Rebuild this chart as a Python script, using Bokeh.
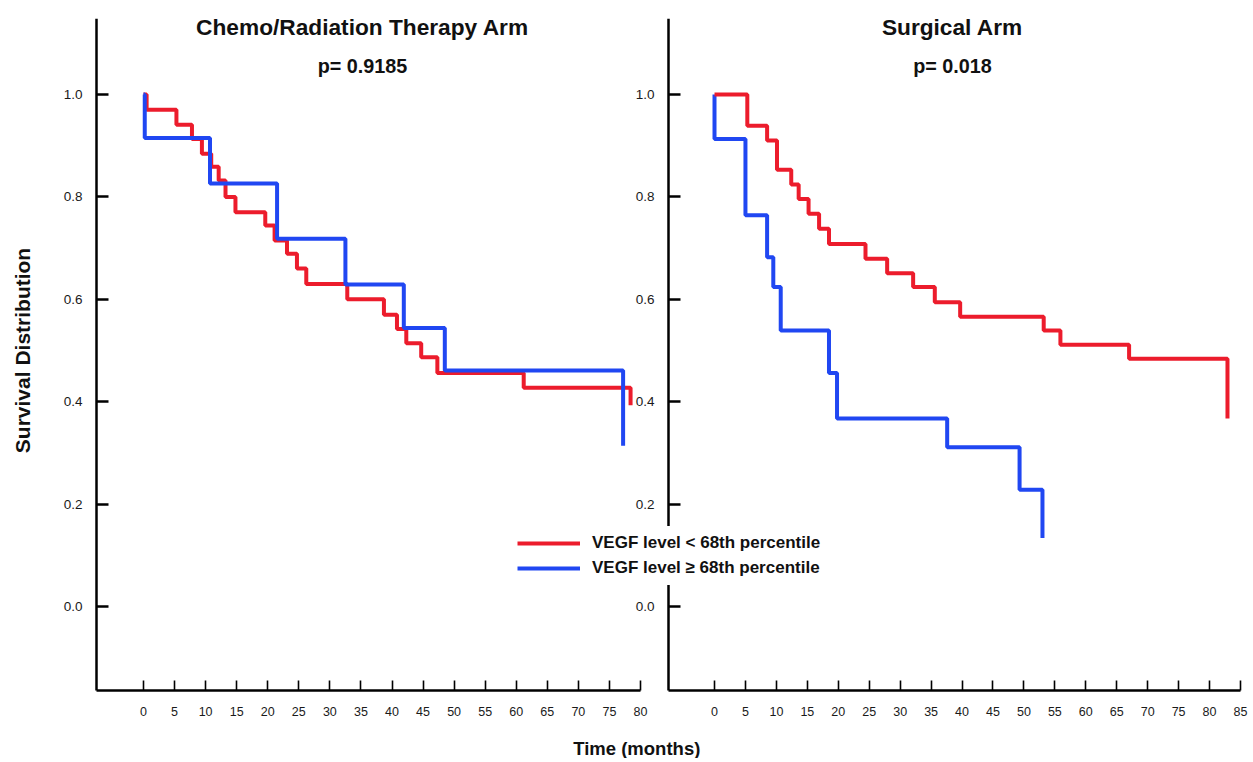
import math
from bokeh.plotting import figure
from bokeh.models import (Range1d, LinearAxis, FixedTicker, Label, Legend, LegendItem,
                          PrintfTickFormatter)
from bokeh.embed import file_html
from bokeh.resources import INLINE

# ---------------- data ----------------
# Chemo/Radiation Therapy Arm
chemo_low_t = [0, 0.5, 5.3, 7.8, 9.4, 10.9, 12.1, 13.2, 14.8, 19.6, 21.1, 23.1,
               24.7, 26.2, 32.8, 38.7, 40.8, 42.3, 44.7, 47.3, 61.2, 78.4]
chemo_low_s = [1.0, 0.970, 0.941, 0.913, 0.884, 0.859, 0.832, 0.800, 0.770, 0.744,
               0.715, 0.689, 0.660, 0.630, 0.600, 0.570, 0.542, 0.514, 0.487,
               0.456, 0.427, 0.393]
chemo_high_t = [0, 0.2, 10.7, 21.5, 32.5, 41.9, 48.5, 77.2]
chemo_high_s = [1.0, 0.915, 0.826, 0.718, 0.629, 0.544, 0.461, 0.314]

# Surgical Arm
surg_low_t = [0, 5.3, 8.5, 10.1, 12.4, 13.6, 15.2, 16.9, 18.5, 24.4, 27.9, 32.1,
              35.6, 39.7, 53.2, 55.9, 67.0, 82.9]
surg_low_s = [1.0, 0.939, 0.910, 0.853, 0.824, 0.796, 0.767, 0.738, 0.708, 0.679,
              0.651, 0.624, 0.594, 0.566, 0.539, 0.511, 0.484, 0.367]
surg_high_t = [0, 0, 5.0, 8.5, 9.5, 10.7, 18.5, 19.8, 37.6, 49.3, 53.0]
surg_high_s = [1.0, 0.913, 0.764, 0.682, 0.624, 0.539, 0.456, 0.367, 0.311, 0.228, 0.134]

x_ticks_chemo = [0, 5, 10, 15, 20, 25, 30, 35, 40, 45, 50, 55, 60, 65, 70, 75, 80]
x_ticks_surg = [0, 5, 10, 15, 20, 25, 30, 35, 40, 45, 50, 55, 60, 65, 70, 75, 80, 85]
y_ticks = [0.0, 0.2, 0.4, 0.6, 0.8, 1.0]

titles = ["Chemo/Radiation Therapy Arm", "Surgical Arm"]
p_values = ["p= 0.9185", "p= 0.018"]
legend_labels = ["VEGF level < 68th percentile", "VEGF level \u2265 68th percentile"]
x_label = "Time (months)"
y_label = "Survival Distribution"

RED = "#ec1c2c"
BLUE = "#2047f2"
FONT = "Liberation Sans"
INK = "#111111"

# ---------------- figure ----------------
# axis extents in data units
CHEMO_X0, CHEMO_X1 = -7.565, 80
SURG_X0, SURG_X1 = -7.43, 85
Y_AX0, Y_AX1 = -0.164, 1.1484

p = figure(width=1250, height=758, title=None,
           x_range=Range1d(-23.02, 178.19), y_range=Range1d(-0.2969, 1.1484),
           x_axis_location=None, y_axis_location=None,
           output_backend="svg", toolbar_location=None,
           min_border_left=0, min_border_right=0, min_border_top=18, min_border_bottom=0)
p.extra_x_ranges = {"surg": Range1d(-115.39, 86.62)}
p.outline_line_color = None
p.grid.visible = False
p.background_fill_color = "white"
p.border_fill_color = "white"


def style_axis(ax, is_x):
    ax.axis_line_width = 2.5
    ax.axis_line_color = "black"
    ax.major_tick_line_color = "black"
    ax.minor_tick_line_color = None
    ax.major_tick_out = 0
    ax.major_label_text_font = FONT
    ax.major_label_text_color = "#1a1a1a"
    if is_x:
        ax.major_tick_in = 10
        ax.major_tick_line_width = 1.6
        ax.major_label_standoff = 17
        ax.major_label_text_font_size = "12.5px"
    else:
        ax.major_tick_in = 12
        ax.major_tick_line_width = 2.5
        ax.major_label_standoff = 14
        ax.major_label_text_font_size = "13.5px"
        ax.formatter = PrintfTickFormatter(format="%.1f")


ax_lx = LinearAxis(ticker=FixedTicker(ticks=x_ticks_chemo), bounds=(CHEMO_X0, CHEMO_X1),
                   fixed_location=Y_AX0)
style_axis(ax_lx, True)
p.add_layout(ax_lx, "below")

ax_rx = LinearAxis(x_range_name="surg", ticker=FixedTicker(ticks=x_ticks_surg),
                   bounds=(SURG_X0, SURG_X1), fixed_location=Y_AX0)
style_axis(ax_rx, True)
p.add_layout(ax_rx, "below")

ax_ly = LinearAxis(ticker=FixedTicker(ticks=y_ticks), bounds=(Y_AX0, Y_AX1),
                   fixed_location=CHEMO_X0)
style_axis(ax_ly, False)
p.add_layout(ax_ly, "left")

ax_ry = LinearAxis(x_range_name="surg", ticker=FixedTicker(ticks=y_ticks),
                   bounds=(Y_AX0, Y_AX1), fixed_location=SURG_X0)
style_axis(ax_ry, False)
p.add_layout(ax_ry, "left")

# ---------------- curves ----------------
r_cl = p.step(chemo_low_t, chemo_low_s, mode="after", line_color=RED, line_width=4)
r_ch = p.step(chemo_high_t, chemo_high_s, mode="after", line_color=BLUE, line_width=4)
r_sh = p.step(surg_high_t, surg_high_s, mode="after", line_color=BLUE, line_width=4,
              x_range_name="surg")
r_sl = p.step(surg_low_t, surg_low_s, mode="after", line_color=RED, line_width=4,
              x_range_name="surg")

# ---------------- texts ----------------
def add_text(x, y, text, size, range_name="default", angle=0.0):
    p.add_layout(Label(x=x, y=y, x_range_name=range_name, text=text, text_align="center",
                       text_baseline="middle", text_font=FONT, text_font_style="bold",
                       text_font_size=size, text_color=INK, angle=angle))


add_text(35.25, 1.131, titles[0], "22.7px")
add_text(35.25, 1.055, p_values[0], "19.8px")
add_text(38.46, 1.131, titles[1], "22.7px", "surg")
add_text(38.46, 1.055, p_values[1], "19.8px", "surg")
add_text(79.4, -0.2774, x_label, "18.5px")
add_text(-19.48, 0.5, y_label, "21px", angle=math.pi / 2)

# ---------------- legend ----------------
legend = Legend(items=[LegendItem(label=legend_labels[0], renderers=[r_cl]),
                       LegendItem(label=legend_labels[1], renderers=[r_ch])],
                location=(510, 173), orientation="vertical",
                glyph_width=63, glyph_height=20, label_standoff=12, spacing=5,
                padding=7, margin=0, border_line_alpha=0,
                background_fill_color="white", background_fill_alpha=1.0,
                label_text_font=FONT, label_text_font_style="bold",
                label_text_font_size="17px", label_text_color=INK)
p.add_layout(legend, "center")

open("out.html", "w").write(file_html(p, INLINE))
